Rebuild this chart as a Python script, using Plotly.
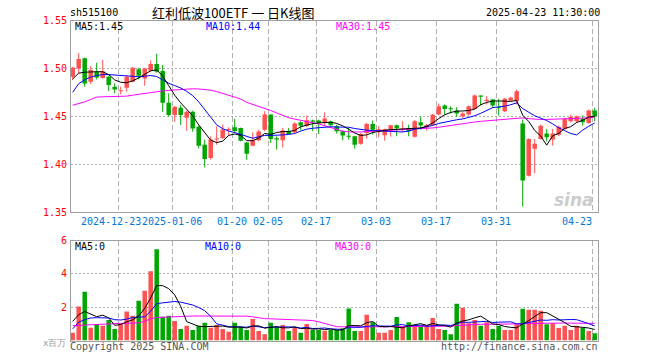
import plotly.graph_objects as go

# ---------------- data ----------------
dates = [
    "2024-12-11", "2024-12-12", "2024-12-13", "2024-12-16", "2024-12-17", "2024-12-18", "2024-12-19",
    "2024-12-20", "2024-12-23", "2024-12-24", "2024-12-25", "2024-12-26", "2024-12-27", "2024-12-30",
    "2024-12-31", "2025-01-02", "2025-01-03", "2025-01-06", "2025-01-07", "2025-01-08", "2025-01-09",
    "2025-01-10", "2025-01-13", "2025-01-14", "2025-01-15", "2025-01-16", "2025-01-17", "2025-01-20",
    "2025-01-21", "2025-01-22", "2025-01-23", "2025-01-24", "2025-01-27", "2025-02-05", "2025-02-06",
    "2025-02-07", "2025-02-10", "2025-02-11", "2025-02-12", "2025-02-13", "2025-02-14", "2025-02-17",
    "2025-02-18", "2025-02-19", "2025-02-20", "2025-02-21", "2025-02-24", "2025-02-25", "2025-02-26",
    "2025-02-27", "2025-02-28", "2025-03-03", "2025-03-04", "2025-03-05", "2025-03-06", "2025-03-07",
    "2025-03-10", "2025-03-11", "2025-03-12", "2025-03-13", "2025-03-14", "2025-03-17", "2025-03-18",
    "2025-03-19", "2025-03-20", "2025-03-21", "2025-03-24", "2025-03-25", "2025-03-26", "2025-03-27",
    "2025-03-28", "2025-03-31", "2025-04-01", "2025-04-02", "2025-04-03", "2025-04-07", "2025-04-08",
    "2025-04-09", "2025-04-10", "2025-04-11", "2025-04-14", "2025-04-15", "2025-04-16", "2025-04-17",
    "2025-04-18", "2025-04-21", "2025-04-22", "2025-04-23",
]

open_ = [
    1.4913, 1.5000, 1.5105, 1.4861, 1.4965, 1.4899, 1.4913, 1.4808, 1.4765, 1.4798,
    1.4861, 1.4990, 1.4895, 1.4976, 1.5045, 1.4972, 1.4641, 1.4512, 1.4589, 1.4484,
    1.4547, 1.4390, 1.4203, 1.4064, 1.4262, 1.4274, 1.4360, 1.4385, 1.4378, 1.4227,
    1.4193, 1.4250, 1.4360, 1.4518, 1.4265, 1.4249, 1.4343, 1.4333, 1.4437, 1.4402,
    1.4450, 1.4455, 1.4430, 1.4445, 1.4396, 1.4343, 1.4292, 1.4291, 1.4214, 1.4326,
    1.4420, 1.4336, 1.4301, 1.4364, 1.4406, 1.4366, 1.4378, 1.4287, 1.4437, 1.4383,
    1.4408, 1.4518, 1.4612, 1.4580, 1.4560, 1.4500, 1.4518, 1.4577, 1.4717, 1.4664,
    1.4675, 1.4590, 1.4553, 1.4665, 1.4658, 1.4423, 1.3878, 1.4161, 1.4263, 1.4319,
    1.4256, 1.4308, 1.4368, 1.4448, 1.4448, 1.4472, 1.4430, 1.4560,
]
high = [
    1.5017, 1.5160, 1.5112, 1.5024, 1.5059, 1.5087, 1.4923, 1.4843, 1.4808, 1.4930,
    1.5014, 1.5007, 1.5003, 1.5084, 1.5153, 1.5035, 1.4739, 1.4606, 1.4617, 1.4557,
    1.4557, 1.4400, 1.4256, 1.4291, 1.4396, 1.4413, 1.4385, 1.4473, 1.4382, 1.4230,
    1.4333, 1.4360, 1.4553, 1.4518, 1.4291, 1.4378, 1.4378, 1.4437, 1.4448, 1.4507,
    1.4465, 1.4465, 1.4542, 1.4455, 1.4413, 1.4350, 1.4378, 1.4295, 1.4326, 1.4430,
    1.4455, 1.4399, 1.4370, 1.4410, 1.4413, 1.4450, 1.4413, 1.4459, 1.4497, 1.4420,
    1.4525, 1.4633, 1.4623, 1.4605, 1.4595, 1.4542, 1.4612, 1.4727, 1.4717, 1.4710,
    1.4682, 1.4682, 1.4692, 1.4703, 1.4780, 1.4465, 1.4270, 1.4263, 1.4413, 1.4368,
    1.4368, 1.4403, 1.4483, 1.4518, 1.4507, 1.4507, 1.4570, 1.4588,
]
low = [
    1.4878, 1.4948, 1.4808, 1.4836, 1.4885, 1.4892, 1.4763, 1.4739, 1.4728, 1.4756,
    1.4854, 1.4885, 1.4819, 1.4965, 1.4955, 1.4547, 1.4495, 1.4443, 1.4408, 1.4348,
    1.4338, 1.4164, 1.3966, 1.4046, 1.4203, 1.4263, 1.4300, 1.4330, 1.4238, 1.4046,
    1.4186, 1.4240, 1.4343, 1.4221, 1.4151, 1.4175, 1.4308, 1.4326, 1.4354, 1.4389,
    1.4343, 1.4315, 1.4396, 1.4395, 1.4319, 1.4249, 1.4256, 1.4161, 1.4203, 1.4266,
    1.4308, 1.4280, 1.4245, 1.4287, 1.4291, 1.4333, 1.4291, 1.4277, 1.4361, 1.4350,
    1.4400, 1.4510, 1.4518, 1.4528, 1.4493, 1.4483, 1.4507, 1.4570, 1.4612, 1.4623,
    1.4588, 1.4507, 1.4542, 1.4658, 1.4623, 1.3557, 1.3871, 1.3906, 1.4256, 1.4238,
    1.4193, 1.4291, 1.4361, 1.4437, 1.4430, 1.4402, 1.4423, 1.4448,
]
close = [
    1.5007, 1.5098, 1.4843, 1.4983, 1.4906, 1.4969, 1.4826, 1.4780, 1.4769, 1.4913,
    1.5007, 1.4923, 1.5000, 1.5045, 1.4965, 1.4641, 1.4512, 1.4599, 1.4512, 1.4547,
    1.4373, 1.4192, 1.4053, 1.4256, 1.4264, 1.4361, 1.4362, 1.4345, 1.4245, 1.4109,
    1.4250, 1.4340, 1.4518, 1.4263, 1.4262, 1.4350, 1.4315, 1.4423, 1.4402, 1.4458,
    1.4448, 1.4430, 1.4476, 1.4405, 1.4343, 1.4298, 1.4290, 1.4203, 1.4315, 1.4420,
    1.4360, 1.4364, 1.4364, 1.4406, 1.4375, 1.4368, 1.4343, 1.4448, 1.4404, 1.4408,
    1.4515, 1.4605, 1.4577, 1.4577, 1.4528, 1.4528, 1.4605, 1.4717, 1.4703, 1.4668,
    1.4612, 1.4588, 1.4682, 1.4692, 1.4762, 1.3829, 1.4263, 1.4214, 1.4402, 1.4280,
    1.4319, 1.4389, 1.4472, 1.4493, 1.4500, 1.4437, 1.4560, 1.4500,
]

ma5 = [
    1.4890, 1.4950, 1.4960, 1.4965, 1.4965, 1.4965, 1.4935, 1.4880, 1.4855, 1.4850,
    1.4870, 1.4900, 1.4935, 1.4975, 1.4985, 1.4920, 1.4820, 1.4720, 1.4640, 1.4570,
    1.4505, 1.4410, 1.4330, 1.4250, 1.4225, 1.4240, 1.4300, 1.4315, 1.4300, 1.4245,
    1.4245, 1.4270, 1.4320, 1.4310, 1.4330, 1.4340, 1.4340, 1.4352, 1.4390, 1.4410,
    1.4423, 1.4430, 1.4437, 1.4437, 1.4425, 1.4400, 1.4365, 1.4325, 1.4300, 1.4305,
    1.4330, 1.4345, 1.4354, 1.4360, 1.4365, 1.4370, 1.4370, 1.4375, 1.4378, 1.4395,
    1.4430, 1.4475, 1.4515, 1.4540, 1.4553, 1.4555, 1.4560, 1.4575, 1.4620, 1.4645,
    1.4658, 1.4660, 1.4658, 1.4655, 1.4665, 1.4511, 1.4446, 1.4352, 1.4294, 1.4198,
    1.4296, 1.4321, 1.4372, 1.4391, 1.4435, 1.4458, 1.4492, 1.4500,
]
ma10 = [
    1.4750, 1.4840, 1.4880, 1.4910, 1.4925, 1.4935, 1.4935, 1.4930, 1.4925, 1.4920,
    1.4915, 1.4913, 1.4918, 1.4925, 1.4915, 1.4880, 1.4845, 1.4820, 1.4795, 1.4760,
    1.4715, 1.4650, 1.4570, 1.4480, 1.4410, 1.4370, 1.4345, 1.4330, 1.4310, 1.4290,
    1.4270, 1.4285, 1.4300, 1.4300, 1.4300, 1.4305, 1.4310, 1.4320, 1.4345, 1.4365,
    1.4375, 1.4382, 1.4388, 1.4390, 1.4388, 1.4386, 1.4385, 1.4372, 1.4360, 1.4355,
    1.4350, 1.4347, 1.4344, 1.4341, 1.4338, 1.4336, 1.4345, 1.4365, 1.4375, 1.4388,
    1.4405, 1.4425, 1.4440, 1.4455, 1.4463, 1.4472, 1.4485, 1.4505, 1.4530, 1.4560,
    1.4590, 1.4598, 1.4605, 1.4620, 1.4640, 1.4580, 1.4540, 1.4505, 1.4480, 1.4455,
    1.4420, 1.4380, 1.4350, 1.4320, 1.4305, 1.4355, 1.4395, 1.4430,
]
ma30 = [
    1.4615, 1.4630, 1.4650, 1.4675, 1.4700, 1.4703, 1.4703, 1.4703, 1.4703, 1.4710,
    1.4720, 1.4730, 1.4740, 1.4750, 1.4760, 1.4765, 1.4770, 1.4775, 1.4780, 1.4785,
    1.4787, 1.4785, 1.4780, 1.4772, 1.4758, 1.4740, 1.4720, 1.4700, 1.4680, 1.4645,
    1.4625, 1.4605, 1.4580, 1.4560, 1.4535, 1.4510, 1.4485, 1.4470, 1.4458, 1.4447,
    1.4437, 1.4420, 1.4400, 1.4382, 1.4362, 1.4345, 1.4336, 1.4334, 1.4336, 1.4340,
    1.4343, 1.4345, 1.4348, 1.4350, 1.4354, 1.4357, 1.4360, 1.4363, 1.4367, 1.4372,
    1.4378, 1.4385, 1.4395, 1.4403, 1.4410, 1.4418, 1.4430, 1.4440, 1.4447, 1.4452,
    1.4457, 1.4460, 1.4465, 1.4470, 1.4478, 1.4483, 1.4475, 1.4468, 1.4466, 1.4467,
    1.4468, 1.4469, 1.4470, 1.4472, 1.4476, 1.4480, 1.4485, 1.4490,
]

volume = [
    0.46, 2.04, 2.93, 0.77, 0.97, 0.89, 1.23, 0.69, 1.03, 1.74,
    1.49, 2.38, 2.99, 4.16, 5.47, 1.43, 1.49, 1.17, 0.69, 0.89,
    0.63, 0.89, 1.07, 0.77, 0.93, 0.69, 0.53, 1.07, 0.83, 0.63,
    1.29, 0.57, 0.38, 1.07, 0.83, 0.93, 0.57, 0.77, 0.46, 0.99,
    0.63, 0.63, 0.59, 0.63, 0.63, 0.73, 1.92, 0.57, 0.57, 1.54,
    1.09, 0.46, 0.46, 0.63, 1.41, 0.83, 1.09, 0.83, 0.89, 0.93,
    1.35, 0.69, 0.63, 0.38, 2.20, 1.96, 1.03, 1.23, 0.89, 1.09,
    0.69, 0.89, 0.63, 0.63, 0.97, 1.90, 1.84, 1.84, 1.78, 0.97,
    1.03, 0.75, 0.89, 0.63, 0.89, 0.77, 0.57, 0.44,
]
vma5 = [
    1.15, 1.55, 1.74, 1.58, 1.43, 1.52, 1.36, 0.91, 0.96, 1.12,
    1.24, 1.47, 1.93, 2.55, 3.30, 3.29, 3.11, 2.74, 2.05, 1.13,
    0.97, 0.85, 0.83, 0.85, 0.86, 0.87, 0.80, 0.80, 0.81, 0.75,
    0.87, 0.88, 0.74, 0.79, 0.83, 0.76, 0.76, 0.83, 0.71, 0.74,
    0.68, 0.70, 0.66, 0.69, 0.62, 0.64, 0.90, 0.90, 0.88, 1.07,
    1.14, 0.85, 0.82, 0.84, 0.81, 0.76, 0.88, 0.96, 1.01, 0.91,
    1.02, 0.94, 0.90, 0.80, 1.05, 1.17, 1.24, 1.36, 1.46, 1.24,
    0.99, 0.96, 0.84, 0.79, 0.76, 1.00, 1.19, 1.44, 1.67, 1.67,
    1.49, 1.27, 1.08, 0.85, 0.84, 0.79, 0.75, 0.66,
]
vma10 = [
    0.70, 1.10, 1.25, 1.35, 1.37, 1.37, 1.35, 1.25, 1.23, 1.28,
    1.38, 1.41, 1.42, 1.76, 2.21, 2.26, 2.29, 2.34, 2.30, 2.22,
    2.13, 1.98, 1.79, 1.45, 1.00, 0.92, 0.83, 0.82, 0.83, 0.80,
    0.87, 0.84, 0.77, 0.80, 0.79, 0.81, 0.82, 0.79, 0.75, 0.79,
    0.72, 0.73, 0.75, 0.70, 0.68, 0.66, 0.80, 0.78, 0.79, 0.84,
    0.89, 0.87, 0.86, 0.86, 0.94, 0.95, 0.87, 0.89, 0.92, 0.86,
    0.89, 0.91, 0.93, 0.90, 0.98, 1.10, 1.09, 1.13, 1.13, 1.15,
    1.08, 1.10, 1.10, 1.12, 1.00, 1.00, 1.08, 1.14, 1.23, 1.21,
    1.25, 1.23, 1.26, 1.26, 1.25, 1.14, 1.01, 0.87,
]
vma30 = [
    0.89, 0.91, 0.93, 0.96, 0.98, 1.00, 1.02, 1.03, 1.03, 1.03,
    1.04, 1.06, 1.15, 1.30, 1.38, 1.40, 1.41, 1.42, 1.44, 1.46,
    1.47, 1.47, 1.47, 1.47, 1.47, 1.47, 1.47, 1.47, 1.47, 1.46,
    1.42, 1.35, 1.31, 1.30, 1.29, 1.27, 1.25, 1.24, 1.23, 1.23,
    1.20, 1.12, 1.02, 0.90, 0.83, 0.82, 0.83, 0.83, 0.82, 0.82,
    0.82, 0.82, 0.82, 0.82, 0.82, 0.82, 0.82, 0.83, 0.83, 0.83,
    0.84, 0.84, 0.85, 0.86, 0.90, 0.93, 0.95, 0.96, 0.97, 0.97,
    0.97, 0.97, 0.97, 0.97, 0.97, 1.00, 1.02, 1.03, 1.04, 1.05,
    1.05, 1.05, 1.05, 1.04, 1.04, 1.04, 1.03, 1.03,
]

tick_dates = ["2024-12-23", "2025-01-06", "2025-01-20", "2025-02-05", "2025-02-17",
              "2025-03-03", "2025-03-17", "2025-03-31", "2025-04-23"]
tick_labels = ["2024-12-23", "2025-01-06", "01-20", "02-05", "02-17",
               "03-03", "03-17", "03-31", "04-23"]
price_ticks = [1.35, 1.40, 1.45, 1.50, 1.55]
vol_ticks = [2, 4, 6]

code = "sh515100"
title = "红利低波100ETF 一 日K线图"
timestamp = "2025-04-23 11:30:00"
legend_price = ["MA5:1.45", "MA10:1.44", "MA30:1.45"]
legend_vol = ["MA5:0", "MA10:0", "MA30:0"]
vol_unit = "x百万"

# ---------------- style ----------------
W, H = 660, 360
MONO = "DejaVu Sans Mono"
RED = "#ff5151"
GREEN = "#00a600"
FRAME = "#a0a0a0"
GRID = "#b0b0b0"


def px(x):
    return x / W


def py(y):
    return 1 - y / H


n = len(dates)
idx = list(range(n))
is_up = [c >= o for o, c in zip(open_, close)]
colors = [RED if u else GREEN for u in is_up]

MIN_BODY = 0.0011
body_base, body_len = [], []
for o, c in zip(open_, close):
    lo, hi = min(o, c), max(o, c)
    h = hi - lo
    if h < MIN_BODY:
        lo -= (MIN_BODY - h) / 2
        h = MIN_BODY
    body_base.append(lo)
    body_len.append(h)

fig = go.Figure()

# wicks
for col, flag in ((RED, True), (GREEN, False)):
    xs, ys = [], []
    for i in idx:
        if is_up[i] == flag:
            xs += [i, i, None]
            ys += [low[i], high[i], None]
    fig.add_trace(go.Scatter(x=xs, y=ys, mode="lines", line=dict(color=col, width=1),
                             hoverinfo="skip", xaxis="x", yaxis="y"))

# bodies
fig.add_trace(go.Bar(x=idx, y=body_len, base=body_base, width=0.75,
                     marker=dict(color=colors, line=dict(width=0)),
                     hoverinfo="skip", xaxis="x", yaxis="y"))

# price MAs
for vals, col in ((ma30, "#ff00ff"), (ma10, "#0000ff"), (ma5, "#000000")):
    fig.add_trace(go.Scatter(x=idx, y=vals, mode="lines", line=dict(color=col, width=1),
                             hoverinfo="skip", xaxis="x", yaxis="y"))

# volume
fig.add_trace(go.Bar(x=idx, y=volume, width=0.75,
                     marker=dict(color=colors, line=dict(width=0)),
                     hoverinfo="skip", xaxis="x2", yaxis="y2"))
for vals, col in ((vma30, "#ff00ff"), (vma10, "#0000ff"), (vma5, "#000000")):
    fig.add_trace(go.Scatter(x=idx, y=vals, mode="lines", line=dict(color=col, width=1),
                             hoverinfo="skip", xaxis="x2", yaxis="y2"))

grid_x = [dates.index(d) - 0.38 for d in tick_dates]
x_left, x_right = 70.5, 597.5
x_range = [-(72.7 - x_left) / 6.0, (x_right - 72.7) / 6.0]

xcommon = dict(range=x_range, domain=[px(x_left), px(x_right)], showline=True,
               linecolor=FRAME, linewidth=1, mirror=True, tickmode="array",
               tickvals=grid_x, showticklabels=False, showgrid=True, gridcolor=GRID,
               griddash="5px,3px", gridwidth=1, zeroline=False, ticks="", fixedrange=True)
ycommon = dict(showline=True, linecolor=FRAME, linewidth=1, mirror=True,
               showgrid=True, gridcolor=GRID, griddash="2px,2px", zeroline=False,
               ticks="", fixedrange=True, showticklabels=False, tickmode="array")

fig.update_layout(
    width=W, height=H, margin=dict(l=0, r=0, t=0, b=0, autoexpand=False),
    paper_bgcolor="white", plot_bgcolor="white", showlegend=False,
    barmode="overlay", hovermode=False,
    xaxis=dict(anchor="y", **xcommon),
    xaxis2=dict(anchor="y2", **xcommon),
    yaxis=dict(domain=[py(212), py(20.5)], range=[1.35, 1.55], anchor="x",
               tickvals=price_ticks, **ycommon),
    yaxis2=dict(domain=[py(340.5), py(240.5)], range=[0, 6], anchor="x2",
                tickvals=vol_ticks, **ycommon),
)

ann = []


def text(x, y, s, color="#000000", size=10, family=MONO, xanchor="left", **kw):
    ann.append(dict(x=px(x), y=py(y), xref="paper", yref="paper", text=s, showarrow=False,
                    xanchor=xanchor, yanchor="middle", borderpad=0, borderwidth=0,
                    font=dict(family=family, size=size, color=color, **kw)))


# header
text(70, 13, code)
text(233, 13, title, size=13, family="Noto Sans CJK SC", xanchor="center")
text(600, 13, timestamp, xanchor="right")

# legends
for s, x, col in zip(legend_price, (75, 206, 336), ("#000000", "#0000ff", "#ff00ff")):
    text(x, 26.5, s, color=col)
for s, x, col in zip(legend_vol, (75, 205, 335), ("#000000", "#0000ff", "#ff00ff")):
    text(x, 246.5, s, color=col)

# y tick labels
for v in price_ticks:
    ann.append(dict(x=px(67), y=v, xref="paper", yref="y", text="%.2f" % v, showarrow=False,
                    xanchor="right", yanchor="middle", borderpad=0, borderwidth=0,
                    font=dict(family=MONO, size=10, color="#ff0000")))
for v in vol_ticks:
    ann.append(dict(x=px(67), y=v, xref="paper", yref="y2", text=str(v), showarrow=False,
                    xanchor="right", yanchor="middle", borderpad=0, borderwidth=0,
                    font=dict(family=MONO, size=10, color="#ff0000")))

# x tick labels (first one nudged left so it just touches the second, as in the original)
for k, (d, lab) in enumerate(zip(tick_dates, tick_labels)):
    i = dates.index(d) - 0.38
    last = d == tick_dates[-1]
    xa = "center"
    if last:
        xa = "right"
    elif k == 0:
        i = dates.index(tick_dates[1]) - 0.38 - 5.2
        xa = "right"
    ann.append(dict(x=i, y=py(221.5), xref="x", yref="paper", text=lab, showarrow=False,
                    xanchor=xa, yanchor="middle", borderpad=0, borderwidth=0,
                    font=dict(family=MONO, size=10, color="#0078d7")))

# footer
text(70, 346, "Copyright 2025 SINA.COM", color="#555555")
text(598, 346, "http://finance.sina.com.cn", color="#555555", xanchor="right")
text(66, 343, vol_unit, color="#999999", size=9, xanchor="right")

# watermark
text(574, 200, "sina", color="#cccccc", size=17, family="DejaVu Sans", xanchor="center",
     weight="bold", style="italic")

fig.update_layout(annotations=ann)
fig.write_html("out.html", config={"displayModeBar": False, "staticPlot": True},
               post_script="document.body.style.margin='0';document.body.style.overflow='hidden';")
